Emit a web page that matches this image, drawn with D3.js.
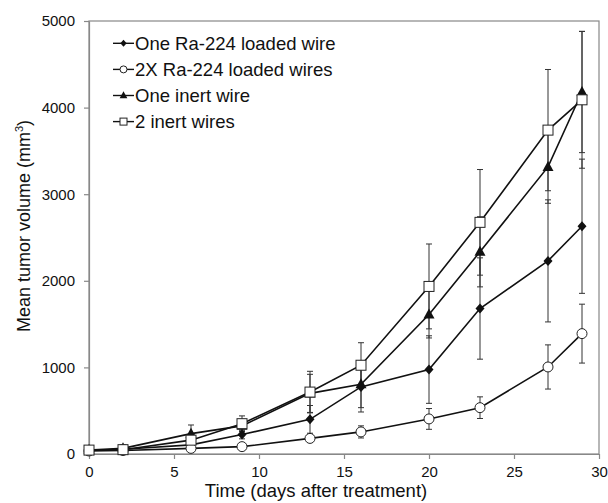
<!DOCTYPE html>
<html>
<head>
<meta charset="utf-8">
<script src="https://cdn.jsdelivr.net/npm/d3@7"></script>
<style>
  body { margin: 0; background: #fff; }
  text { font-family: "Liberation Sans", Arial, sans-serif; fill: #111; }
</style>
</head>
<body>
<script>
// days after treatment
const days = [0, 2, 6, 9, 13, 16, 20, 23, 27, 29];

const oneRa = [40, 55, 105, 225, 400, 775, 975, 1680, 2230, 2630];
const oneRaErr = [15, 20, 30, 50, 160, 290, 390, 585, 705, 775];

const twoRa = [35, 40, 65, 85, 180, 255, 405, 535, 1005, 1390];
const twoRaErr = [10, 10, 15, 20, 40, 70, 120, 125, 255, 340];

const oneInert = [45, 65, 235, 325, 700, 805, 1610, 2335, 3315, 4180];
const oneInertErr = [15, 40, 100, 60, 220, 270, 270, 405, 420, 700];

const twoInert = [45, 50, 160, 350, 715, 1025, 1935, 2675, 3740, 4090];
const twoInertErr = [15, 20, 60, 90, 240, 260, 490, 610, 700, 790];

const seriesNames = ["One Ra-224 loaded wire", "2X Ra-224 loaded wires", "One inert wire", "2 inert wires"];
const xTicks = [0, 5, 10, 15, 20, 25, 30];
const yTicks = [0, 1000, 2000, 3000, 4000, 5000];

const width = 608, height = 503;
const margin = {top: 21, right: 9, bottom: 49, left: 89};

const svg = d3.select("body").append("svg")
    .attr("width", width)
    .attr("height", height);

const x = d3.scaleLinear().domain([0, 30]).range([margin.left, width - margin.right]);
const y = d3.scaleLinear().domain([0, 5000]).range([height - margin.bottom, margin.top]);

// frame
svg.append("rect")
    .attr("x", x(0)).attr("y", y(5000))
    .attr("width", x(30) - x(0)).attr("height", y(0) - y(5000))
    .attr("fill", "none").attr("stroke", "#888").attr("stroke-width", 1.2);

const xAxis = svg.append("g")
    .attr("transform", `translate(0,${y(0)})`)
    .call(d3.axisBottom(x).tickValues(xTicks).tickSize(5).tickPadding(7).tickSizeOuter(0));
const yAxis = svg.append("g")
    .attr("transform", `translate(${x(0)},0)`)
    .call(d3.axisLeft(y).tickValues(yTicks).tickFormat(d3.format("d")).tickSize(5).tickPadding(9).tickSizeOuter(0));

[xAxis, yAxis].forEach(g => {
    g.select(".domain").attr("stroke", "#888").attr("stroke-width", 1.2);
    g.selectAll(".tick line").attr("stroke", "#888").attr("stroke-width", 1.2);
    g.selectAll(".tick text")
        .attr("font-family", "Liberation Sans, Arial, sans-serif")
        .attr("font-size", 15).attr("fill", "#111");
});

svg.append("text")
    .attr("x", 316)
    .attr("y", 497)
    .attr("text-anchor", "middle")
    .attr("font-size", 18.5)
    .text("Time (days after treatment)");

const ylab = svg.append("text")
    .attr("transform", `translate(30,226) rotate(-90)`)
    .attr("text-anchor", "middle")
    .attr("font-size", 18);
ylab.append("tspan").text("Mean tumor volume (mm");
ylab.append("tspan").attr("font-size", 11).attr("dy", -7).text("3");
ylab.append("tspan").attr("dy", 7).text(")");

const series = [
    {name: seriesNames[0], vals: oneRa, err: oneRaErr, shape: "diamond"},
    {name: seriesNames[1], vals: twoRa, err: twoRaErr, shape: "circle"},
    {name: seriesNames[2], vals: oneInert, err: oneInertErr, shape: "triangle"},
    {name: seriesNames[3], vals: twoInert, err: twoInertErr, shape: "square"}
];

function drawMarker(g, shape, cx, cy, s) {
    s = s || 1;
    if (shape === "diamond") {
        g.append("path")
            .attr("d", `M${cx},${cy - 5 * s}L${cx + 4.5 * s},${cy}L${cx},${cy + 5 * s}L${cx - 4.5 * s},${cy}Z`)
            .attr("fill", "#111");
    } else if (shape === "circle") {
        g.append("circle").attr("cx", cx).attr("cy", cy).attr("r", 5 * s)
            .attr("fill", "#fff").attr("stroke", "#222").attr("stroke-width", 1);
    } else if (shape === "triangle") {
        g.append("path")
            .attr("d", `M${cx},${cy - 6 * s}L${cx + 5.5 * s},${cy + 4 * s}L${cx - 5.5 * s},${cy + 4 * s}Z`)
            .attr("fill", "#111");
    } else {
        g.append("rect").attr("x", cx - 5 * s).attr("y", cy - 5 * s)
            .attr("width", 10 * s).attr("height", 10 * s)
            .attr("fill", "#fff").attr("stroke", "#222").attr("stroke-width", 1);
    }
}

const line = d3.line().x((d, i) => x(days[i])).y(d => y(d));

// error bars first
series.forEach(s => {
    const g = svg.append("g").attr("stroke", "#333").attr("stroke-width", 1);
    s.vals.forEach((v, i) => {
        const cx = x(days[i]);
        const lo = y(Math.max(0, v - s.err[i])), hi = y(v + s.err[i]);
        g.append("line").attr("x1", cx).attr("x2", cx).attr("y1", lo).attr("y2", hi);
        g.append("line").attr("x1", cx - 3).attr("x2", cx + 3).attr("y1", hi).attr("y2", hi);
        g.append("line").attr("x1", cx - 3).attr("x2", cx + 3).attr("y1", lo).attr("y2", lo);
    });
});

series.forEach(s => {
    svg.append("path")
        .attr("d", line(s.vals))
        .attr("fill", "none")
        .attr("stroke", "#111")
        .attr("stroke-width", 1.6);
    const g = svg.append("g");
    s.vals.forEach((v, i) => drawMarker(g, s.shape, x(days[i]), y(v)));
});

// legend
const legend = svg.append("g");
series.forEach((s, i) => {
    const ly = 43.3 + i * 26.1;
    legend.append("line")
        .attr("x1", 113).attr("x2", 134).attr("y1", ly).attr("y2", ly)
        .attr("stroke", "#111").attr("stroke-width", 1.4);
    drawMarker(legend, s.shape, 123.5, ly, 0.7);
    legend.append("text")
        .attr("x", 135).attr("y", ly + 6.5)
        .attr("font-size", 18.5)
        .text(s.name);
});
</script>
</body>
</html>
